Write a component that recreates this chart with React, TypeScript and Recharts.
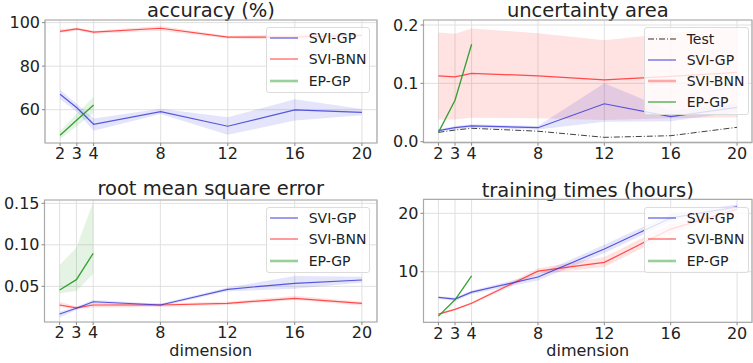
import {
  Area,
  CartesianGrid,
  ComposedChart,
  Line,
  ReferenceArea,
  XAxis,
  YAxis,
} from "recharts";

const dims = [2, 3, 4, 8, 12, 16, 20];
const xTicks = [2, 3, 4, 8, 12, 16, 20];

// accuracy (%)
const accGp = [67.1, 60.9, 53.3, 59.1, 52.4, 59.9, 58.8];
const accGpLo = [64.8, 59.0, 50.3, 58.0, 48.5, 55.0, 57.5];
const accGpHi = [69.2, 62.6, 56.0, 60.4, 56.5, 64.8, 60.3];
const accBnn = [96.0, 97.1, 95.6, 97.4, 93.3, 93.4, 94.2];
const accBnnLo = [95.2, 96.4, 94.9, 96.3, 92.7, 92.2, 93.5];
const accBnnHi = [96.8, 97.8, 96.3, 98.4, 93.9, 94.8, 94.9];
const accEp = [48.3, 55.3, 62.2];
const accEpLo = [46.5, 52.5, 58.5];
const accEpHi = [50.2, 58.3, 66.0];

// uncertainty area
const uncTest = [0.016, 0.02, 0.023, 0.018, 0.0075, 0.0103, 0.0247];
const uncGp = [0.019, 0.024, 0.027, 0.024, 0.065, 0.043, 0.059];
const uncGpLo = [0.017, 0.021, 0.024, 0.021, 0.034, 0.035, 0.051];
const uncGpHi = [0.021, 0.027, 0.03, 0.027, 0.1, 0.053, 0.066];
const uncBnn = [0.113, 0.111, 0.117, 0.113, 0.106, 0.112, 0.119];
const uncBnnLo = [0.038, 0.038, 0.041, 0.04, 0.037, 0.04, 0.042];
const uncBnnHi = [0.187, 0.185, 0.194, 0.186, 0.174, 0.186, 0.197];
const uncEp = [0.016, 0.071, 0.167];
const uncEpLo = [0.015, 0.069, 0.165];
const uncEpHi = [0.017, 0.073, 0.169];

// root mean square error
const rmseGp = [0.0166, 0.0235, 0.0314, 0.0275, 0.0464, 0.0536, 0.0576];
const rmseGpLo = [0.0125, 0.0215, 0.029, 0.026, 0.044, 0.047, 0.0545];
const rmseGpHi = [0.0195, 0.0255, 0.0335, 0.029, 0.0485, 0.0625, 0.0615];
const rmseBnn = [0.0275, 0.024, 0.0275, 0.0275, 0.0295, 0.0355, 0.0295];
const rmseBnnLo = [0.0255, 0.0225, 0.0245, 0.025, 0.0275, 0.0335, 0.027];
const rmseBnnHi = [0.031, 0.026, 0.029, 0.0295, 0.0315, 0.0385, 0.0315];
const rmseEp = [0.0455, 0.058, 0.0898];
const rmseEpLo = [0.0416, 0.0443, 0.065];
const rmseEpHi = [0.0757, 0.0965, 0.152];

// training times (hours)
const timeGp = [5.6, 5.3, 6.5, 9.1, 13.9, 19.2, 21.1];
const timeGpLo = [5.4, 5.0, 6.2, 8.5, 13.2, 18.6, 20.8];
const timeGpHi = [5.8, 5.6, 6.8, 9.6, 14.6, 19.9, 21.5];
const timeBnn = [2.75, 3.55, 4.6, 10.1, 11.6, 17.3, 20.7];
const timeBnnLo = [2.6, 3.4, 4.4, 9.6, 10.8, 16.5, 20.3];
const timeBnnHi = [2.9, 3.7, 4.8, 10.6, 12.5, 18.2, 21.2];
const timeEp = [2.4, 5.2, 9.3];
const timeEpLo = [2.3, 5.1, 9.2];
const timeEpHi = [2.5, 5.3, 9.4];

const BLUE = "#3232d8";
const RED = "#ff3030";
const GREEN = "#1f9a1f";
const FONT = "DejaVu Sans, sans-serif";

type Series = {
  gp: number[]; gpLo: number[]; gpHi: number[];
  bnn: number[]; bnnLo: number[]; bnnHi: number[];
  ep: number[]; epLo: number[]; epHi: number[];
  test?: number[];
};

function buildRows(s: Series) {
  return dims.map((d, i) => ({
    x: d,
    gp: s.gp[i],
    gpBand: [s.gpLo[i], s.gpHi[i]],
    bnn: s.bnn[i],
    bnnBand: [s.bnnLo[i], s.bnnHi[i]],
    ep: i < s.ep.length ? s.ep[i] : null,
    epBand: i < s.ep.length ? [s.epLo[i], s.epHi[i]] : null,
    test: s.test ? s.test[i] : null,
  }));
}

type Entry = { label: string; color: string; width: number; opacity: number; dash?: string };

function LegendBox({ entries, w, left, top }: { entries: Entry[]; w: number; left: number; top: number }) {
  return (
    <div
      style={{
        position: "absolute",
        left,
        top,
        width: w,
        boxSizing: "border-box",
        border: "1px solid #dcdcdc",
        borderRadius: 3,
        background: "rgba(255,255,255,0.8)",
        padding: "0 0 1px 3px",
        fontFamily: FONT,
        fontSize: 14,
        color: "#222",
      }}
    >
      {entries.map((e) => (
        <div key={e.label} style={{ height: 21.2, display: "flex", alignItems: "center" }}>
          <svg width={28} height={8} style={{ marginRight: 11 }}>
            <line
              x1={0}
              x2={28}
              y1={4}
              y2={4}
              stroke={e.color}
              strokeWidth={e.width}
              strokeOpacity={e.opacity}
              strokeDasharray={e.dash}
            />
          </svg>
          <span>{e.label}</span>
        </div>
      ))}
    </div>
  );
}

const stdEntries: Entry[] = [
  { label: "SVI-GP", color: BLUE, width: 1.2, opacity: 0.8 },
  { label: "SVI-BNN", color: RED, width: 1.2, opacity: 0.8 },
  { label: "EP-GP", color: GREEN, width: 2.6, opacity: 0.45 },
];
const uncEntries: Entry[] = [
  { label: "Test", color: "#000", width: 1, opacity: 0.8, dash: "6 2 1 2" },
  { label: "SVI-GP", color: BLUE, width: 1.2, opacity: 0.8 },
  { label: "SVI-BNN", color: RED, width: 2.6, opacity: 0.4 },
  { label: "EP-GP", color: GREEN, width: 1.2, opacity: 0.9 },
];

type PanelProps = {
  left: number; top: number; width: number; height: number;
  plotTop: number; plotBottom: number; plotLeft: number; plotRight: number;
  yDomain: [number, number];
  yTicks: number[];
  yFmt?: (v: number) => string;
  rows: ReturnType<typeof buildRows>;
  title: string; titleY: number;
  xLabelY?: number;
  entries: Entry[];
  legendTop: number; legendLeft: number; legendW: number;
  hasTest?: boolean;
};

function Panel(p: PanelProps) {
  const cx = (p.plotLeft + p.plotRight) / 2;
  const tickStyle = { fontSize: 16, fill: "#222", fontFamily: FONT };
  return (
    <div style={{ position: "absolute", left: p.left, top: p.top, width: p.width, height: p.height }}>
      <ComposedChart
        width={p.width}
        height={p.height}
        data={p.rows}
        margin={{ top: p.plotTop, right: p.width - p.plotRight, bottom: 0, left: 0 }}
      >
        <CartesianGrid stroke="#e0e0e0" strokeWidth={1} />
        <XAxis
          dataKey="x"
          type="number"
          domain={[1.1, 20.9]}
          ticks={xTicks}
          allowDataOverflow
          height={p.height - p.plotBottom}
          axisLine={false}
          tickSize={3}
          tickMargin={2}
          tickLine={{ stroke: "#888" }}
          tick={tickStyle}
          interval={0}
        />
        <YAxis
          type="number"
          domain={p.yDomain}
          ticks={p.yTicks}
          allowDataOverflow
          width={p.plotLeft}
          axisLine={false}
          tickSize={3}
          tickMargin={2}
          tickLine={{ stroke: "#888" }}
          tick={tickStyle}
          tickFormatter={p.yFmt}
          interval={0}
        />
        <Area dataKey="bnnBand" type="linear" stroke="none" fill={RED} fillOpacity={0.14} isAnimationActive={false} />
        <Area dataKey="gpBand" type="linear" stroke="none" fill={BLUE} fillOpacity={0.13} isAnimationActive={false} />
        <Area dataKey="epBand" type="linear" stroke="none" fill={GREEN} fillOpacity={0.12} isAnimationActive={false} />
        {p.hasTest && (
          <Line dataKey="test" type="linear" stroke="#000" strokeOpacity={0.75} strokeWidth={1} strokeDasharray="6 2 1 2" dot={false} isAnimationActive={false} />
        )}
        <Line dataKey="bnn" type="linear" stroke={RED} strokeOpacity={0.85} strokeWidth={1.2} dot={false} isAnimationActive={false} />
        <Line dataKey="gp" type="linear" stroke={BLUE} strokeOpacity={0.8} strokeWidth={1.2} dot={false} isAnimationActive={false} />
        <Line dataKey="ep" type="linear" stroke={GREEN} strokeOpacity={0.9} strokeWidth={1.3} dot={false} isAnimationActive={false} />
        <ReferenceArea x1={1.1} x2={20.9} y1={p.yDomain[0]} y2={p.yDomain[1]} fill="none" stroke="#aaaaaa" strokeWidth={1.2} ifOverflow="visible" />
        <text x={cx} y={p.titleY} textAnchor="middle" fontSize={19.5} fill="#222" fontFamily={FONT}>
          {p.title}
        </text>
        {p.xLabelY !== undefined && (
          <text x={cx} y={p.xLabelY} textAnchor="middle" fontSize={16} fill="#222" fontFamily={FONT}>
            dimension
          </text>
        )}
      </ComposedChart>
      <LegendBox entries={p.entries} w={p.legendW} left={p.legendLeft} top={p.legendTop} />
    </div>
  );
}

export default function App() {
  const accRows = buildRows({ gp: accGp, gpLo: accGpLo, gpHi: accGpHi, bnn: accBnn, bnnLo: accBnnLo, bnnHi: accBnnHi, ep: accEp, epLo: accEpLo, epHi: accEpHi });
  const uncRows = buildRows({ gp: uncGp, gpLo: uncGpLo, gpHi: uncGpHi, bnn: uncBnn, bnnLo: uncBnnLo, bnnHi: uncBnnHi, ep: uncEp, epLo: uncEpLo, epHi: uncEpHi, test: uncTest });
  const rmseRows = buildRows({ gp: rmseGp, gpLo: rmseGpLo, gpHi: rmseGpHi, bnn: rmseBnn, bnnLo: rmseBnnLo, bnnHi: rmseBnnHi, ep: rmseEp, epLo: rmseEpLo, epHi: rmseEpHi });
  const timeRows = buildRows({ gp: timeGp, gpLo: timeGpLo, gpHi: timeGpHi, bnn: timeBnn, bnnLo: timeBnnLo, bnnHi: timeBnnHi, ep: timeEp, epLo: timeEpLo, epHi: timeEpHi });

  return (
    <div style={{ position: "absolute", left: 0, top: 0, width: 753, height: 363, background: "#fff", overflow: "hidden" }}>
      <Panel
        left={0} top={0} width={380} height={175}
        plotTop={20} plotBottom={143} plotLeft={45} plotRight={377}
        yDomain={[44.7, 101.2]} yTicks={[60, 80, 100]}
        rows={accRows} title="accuracy (%)" titleY={16.7}
        entries={stdEntries} legendLeft={265.7} legendTop={26.7} legendW={104.5}
      />
      <Panel
        left={380} top={0} width={373} height={175}
        plotTop={20} plotBottom={142.7} plotLeft={43.5} plotRight={372}
        yDomain={[-0.0017, 0.2086]} yTicks={[0, 0.1, 0.2]} yFmt={(v) => v.toFixed(1)}
        rows={uncRows} title="uncertainty area" titleY={16.7} hasTest
        entries={uncEntries} legendLeft={263.7} legendTop={27.3} legendW={105.5}
      />
      <Panel
        left={0} top={175} width={380} height={188}
        plotTop={25} plotBottom={147} plotLeft={44.5} plotRight={377}
        yDomain={[0.007, 0.154]} yTicks={[0.05, 0.1, 0.15]} yFmt={(v) => v.toFixed(2)}
        rows={rmseRows} title="root mean square error" titleY={20} xLabelY={181}
        entries={stdEntries} legendLeft={265.7} legendTop={31.7} legendW={104.5}
      />
      <Panel
        left={380} top={175} width={373} height={188}
        plotTop={24.3} plotBottom={147.3} plotLeft={43.5} plotRight={372}
        yDomain={[1.34, 22.4]} yTicks={[10, 20]}
        rows={timeRows} title="training times (hours)" titleY={21.7} xLabelY={181}
        entries={stdEntries} legendLeft={263.7} legendTop={31.7} legendW={105.5}
      />
    </div>
  );
}
